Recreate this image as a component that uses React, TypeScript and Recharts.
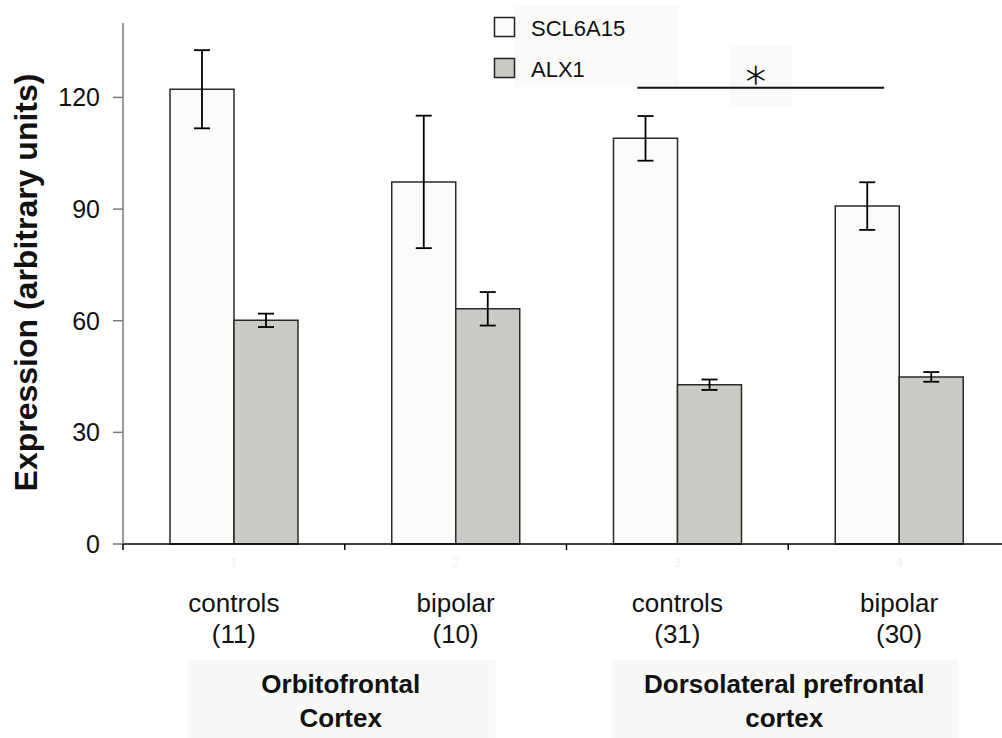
import React from "react";
import {
  BarChart,
  Bar,
  XAxis,
  YAxis,
  ErrorBar,
  ReferenceLine,
} from "recharts";

const categories = ["1", "2", "3", "4"];
const groupLabels = ["controls", "bipolar", "controls", "bipolar"];
const sampleSizes = ["(11)", "(10)", "(31)", "(30)"];
const regionLabels = [
  "Orbitofrontal\nCortex",
  "Orbitofrontal\nCortex",
  "Dorsolateral prefrontal\ncortex",
  "Dorsolateral prefrontal\ncortex",
];
const seriesNames = ["SCL6A15", "ALX1"];
const scl6a15 = [122.2, 97.3, 109.0, 90.8];
const scl6a15Err = [10.5, 17.8, 6.0, 6.4];
const alx1 = [60.1, 63.2, 42.8, 44.9];
const alx1Err = [1.8, 4.5, 1.4, 1.3];
const yTicks = [0, 30, 60, 90, 120];
const sigFrom = "3";
const sigTo = "4";
const sigLevel = 122.6;
const sigMark = "∗";

const data = categories.map((c, i) => ({
  id: c,
  region: regionLabels[i],
  scl: scl6a15[i],
  sclErr: scl6a15Err[i],
  alx: alx1[i],
  alxErr: alx1Err[i],
}));

const FONT = "'Liberation Sans', Arial, Helvetica, sans-serif";
const CHART_W = 1010;
const CHART_H = 738;
const PLOT_LEFT = 123;
const BAND = (CHART_W - PLOT_LEFT) / categories.length;
const COLORS = ["#fbfbf9", "#c9cbc4"];
const REGION_BOX_W = [308, 346];
const uniqueRegions = Array.from(new Set(regionLabels));

function CategoryTick(props: any) {
  const { x, y, payload } = props;
  const i = categories.indexOf(payload.value);
  return (
    <g>
      <line x1={x - BAND / 2} x2={x - BAND / 2} y1={y} y2={y + 6} stroke="#000" strokeWidth={1.5} />
      <text x={x} y={y + 23} textAnchor="middle" fontSize={13} fill="#f1f1f1" fontFamily={FONT}>
        {payload.value}
      </text>
      <text x={x} y={y + 68} textAnchor="middle" fontSize={26} fill="#111" fontFamily={FONT}>
        {groupLabels[i]}
      </text>
      <text x={x} y={y + 99} textAnchor="middle" fontSize={26} fill="#111" fontFamily={FONT}>
        {sampleSizes[i]}
      </text>
    </g>
  );
}

function RegionTick(props: any) {
  const { x, y, payload } = props;
  const idx = uniqueRegions.indexOf(payload.value);
  const w = REGION_BOX_W[idx] ?? 320;
  const lines = String(payload.value).split("\n");
  return (
    <g>
      <rect x={x - 3 - w / 2} y={y + 16} width={w} height={80} fill="#f8f8f6" />
      {lines.map((l, k) => (
        <text
          key={k}
          x={x - 4}
          y={y + 49 + k * 34}
          textAnchor="middle"
          fontSize={26}
          fontWeight="bold"
          fill="#111"
          fontFamily={FONT}
        >
          {l}
        </text>
      ))}
    </g>
  );
}

function SigBracket(p: any) {
  const { x1, x2, y1 } = p;
  const left = x1 - 40;
  const right = x2 - 15;
  const mid = (left + right) / 2;
  return (
    <g>
      <rect x={mid - 31} y={y1 - 41} width={62} height={60} fill="#f9f9f7" />
      <line x1={left} x2={right} y1={y1} y2={y1} stroke="#111" strokeWidth={1.8} />
      <text
        x={mid - 5}
        y={y1 - 14}
        textAnchor="middle"
        dominantBaseline="central"
        fontSize={40}
        fontWeight={200}
        fill="#000"
        stroke="#000"
        strokeWidth={0.6}
        fontFamily="'DejaVu Sans', sans-serif"
      >
        {sigMark}
      </text>
    </g>
  );
}

function YTitle(props: any) {
  const vb = props.viewBox || {};
  const cy = (vb.y ?? 23) + (vb.height ?? 521) / 2 - 1;
  return (
    <text
      x={37}
      y={cy}
      transform={`rotate(-90 37 ${cy})`}
      textAnchor="middle"
      fontSize={32}
      fontWeight="bold"
      fill="#111"
      fontFamily={FONT}
    >
      Expression (arbitrary units)
    </text>
  );
}

function LegendOverlay() {
  return (
    <svg width={1002} height={738} style={{ position: "absolute", left: 0, top: 0 }}>
      <rect x={515} y={6} width={164} height={81} fill="#fafaf8" />
      {seriesNames.map((name, i) => (
        <g key={name}>
          <rect
            x={494.5}
            y={17.5 + i * 41}
            width={20}
            height={19}
            fill={COLORS[i]}
            stroke="#222"
            strokeWidth={1.5}
          />
          <text x={531} y={36 + i * 41} fontSize={22} fill="#111" fontFamily={FONT}>
            {name}
          </text>
        </g>
      ))}
    </svg>
  );
}

export default function App() {
  return (
    <div
      style={{
        position: "absolute",
        left: 0,
        top: 0,
        width: 1002,
        height: 738,
        overflow: "hidden",
        background: "#fff",
      }}
    >
      <LegendOverlay />
      <div style={{ position: "absolute", left: 0, top: 0 }}>
        <BarChart
          width={CHART_W}
          height={CHART_H}
          data={data}
          barSize={64}
          barGap={0}
          margin={{ top: 23, right: 0, bottom: 0, left: 0 }}
        >
          <XAxis
            dataKey="id"
            height={100}
            axisLine={{ stroke: "#000", strokeWidth: 1.5 }}
            tickLine={false}
            tickSize={0}
            tickMargin={0}
            interval={0}
            tick={<CategoryTick />}
          />
          <XAxis
            xAxisId="region"
            dataKey="region"
            allowDuplicatedCategory={false}
            height={94}
            axisLine={false}
            tickLine={false}
            tickSize={0}
            tickMargin={0}
            interval={0}
            tick={<RegionTick />}
          />
          <YAxis
            width={PLOT_LEFT}
            domain={[0, 140]}
            ticks={yTicks}
            interval={0}
            tickSize={10}
            tickMargin={13}
            axisLine={{ stroke: "#7a7a7a", strokeWidth: 1.5 }}
            tickLine={{ stroke: "#7a7a7a", strokeWidth: 1.5 }}
            tick={{ fontSize: 25, fill: "#111", fontFamily: FONT }}
            label={{ content: <YTitle /> }}
          />
          <Bar
            dataKey="scl"
            name={seriesNames[0]}
            fill={COLORS[0]}
            stroke="#2a2a2a"
            strokeWidth={1.5}
            isAnimationActive={false}
          >
            <ErrorBar dataKey="sclErr" width={8} stroke="#000" strokeWidth={1.8} />
          </Bar>
          <Bar
            dataKey="alx"
            name={seriesNames[1]}
            fill={COLORS[1]}
            stroke="#2a2a2a"
            strokeWidth={1.5}
            isAnimationActive={false}
          >
            <ErrorBar dataKey="alxErr" width={8} stroke="#000" strokeWidth={1.8} />
          </Bar>
          <ReferenceLine
            segment={[
              { x: sigFrom, y: sigLevel },
              { x: sigTo, y: sigLevel },
            ]}
            ifOverflow="visible"
            shape={<SigBracket />}
          />
        </BarChart>
      </div>
    </div>
  );
}
